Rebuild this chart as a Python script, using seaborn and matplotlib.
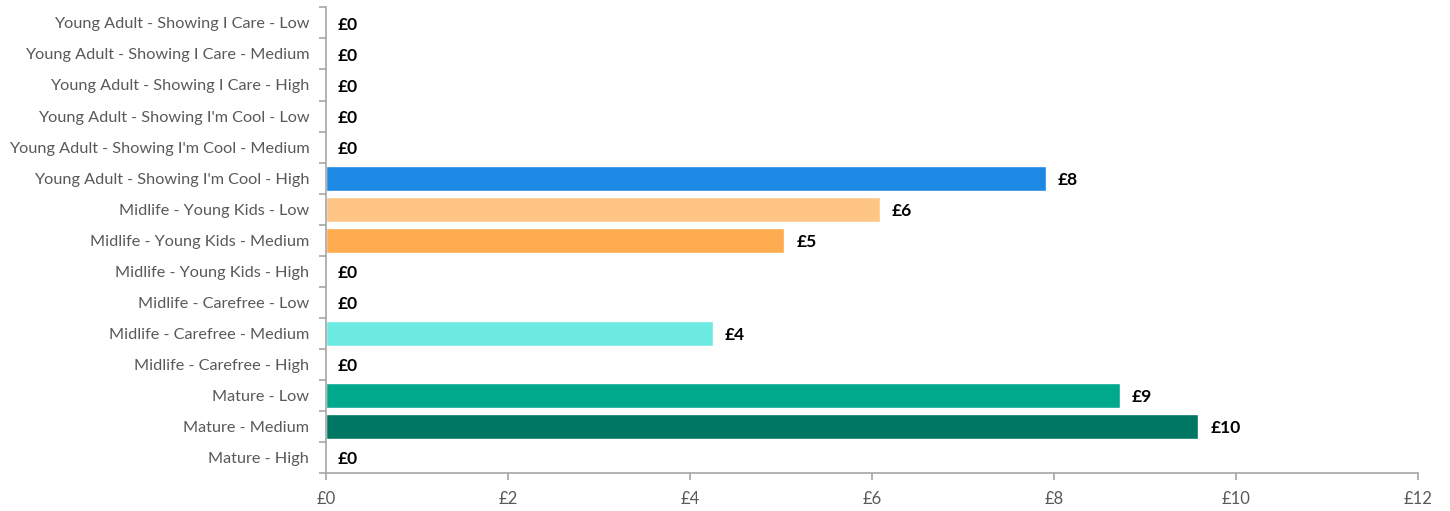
import matplotlib
matplotlib.use("Agg")
import matplotlib.pyplot as plt
import seaborn as sns
import pandas as pd
import numpy as np
from matplotlib.ticker import FixedLocator

categories = [
    "Young Adult - Showing I Care - Low",
    "Young Adult - Showing I Care - Medium",
    "Young Adult - Showing I Care - High",
    "Young Adult - Showing I'm Cool - Low",
    "Young Adult - Showing I'm Cool - Medium",
    "Young Adult - Showing I'm Cool - High",
    "Midlife - Young Kids - Low",
    "Midlife - Young Kids - Medium",
    "Midlife - Young Kids - High",
    "Midlife - Carefree - Low",
    "Midlife - Carefree - Medium",
    "Midlife - Carefree - High",
    "Mature - Low",
    "Mature - Medium",
    "Mature - High",
]
values = [0, 0, 0, 0, 0, 7.91, 6.09, 5.04, 0, 0, 4.25, 0, 8.73, 9.59, 0]
colors = ["#1E88E5", "#1E88E5", "#1E88E5", "#1E88E5", "#1E88E5", "#1E88E5",
          "#FFC585", "#FFAB4F", "#FF8C00", "#6CEAE2", "#6CEAE2", "#00C9BC",
          "#00A98C", "#007763", "#00543F"]
x_ticks = [0, 2, 4, 6, 8, 10, 12]
x_tick_labels = ["£0", "£2", "£4", "£6", "£8", "£10", "£12"]

sns.set_style("white")
plt.rcParams["font.family"] = ["Lato", "DejaVu Sans"]

df = pd.DataFrame({"category": categories, "value": values})

fig = plt.figure(figsize=(14.5, 5.11), dpi=100)
ax = fig.add_axes([0.2248, 0.0738, 0.9777 - 0.2248, 0.9857 - 0.0738])

sns.barplot(data=df, x="value", y="category", hue="category",
            palette=dict(zip(categories, colors)), order=categories,
            hue_order=categories, width=0.8, legend=False, ax=ax,
            saturation=1, orient="h")

ax.set_xlim(0, 12)
ax.set_ylim(len(categories) - 0.5, -0.5)
ax.set_xticks(x_ticks)
ax.set_xticklabels(x_tick_labels)
ax.set_xlabel("")
ax.set_ylabel("")

grey = "#595959"
axis_col = "#A6A6A6"
ax.tick_params(axis="y", which="major", left=True, length=0, pad=12,
               labelsize=11.7, labelcolor=grey)
ax.yaxis.set_minor_locator(FixedLocator(np.arange(-0.5, len(categories), 1.0)))
ax.tick_params(axis="y", which="minor", left=True, length=5, width=1.2,
               color=axis_col, direction="out")
ax.tick_params(axis="x", which="major", bottom=True, length=5, width=1.2, color=axis_col,
               direction="out", labelsize=12, labelcolor=grey, pad=8)

for s in ["top", "right"]:
    ax.spines[s].set_visible(False)
for s in ["left", "bottom"]:
    ax.spines[s].set_visible(True)
    ax.spines[s].set_color(axis_col)
    ax.spines[s].set_linewidth(1.2)

for i, v in enumerate(values):
    ax.annotate(f"£{round(v):.0f}", xy=(v, i), xytext=(8.5, -1.2), textcoords="offset points",
                ha="left", va="center", fontsize=12.5, fontweight="bold", color="black")

fig.savefig("out.png", dpi=100)
